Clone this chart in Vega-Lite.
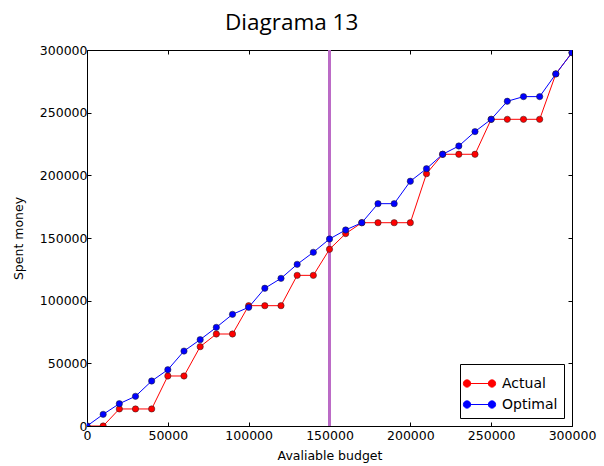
{
  "$schema": "https://vega.github.io/schema/vega-lite/v6.json",
  "width": 485,
  "height": 376,
  "autosize": {"type": "none"},
  "padding": {"left": 87, "top": 50, "right": 32, "bottom": 40},
  "background": "white",
  "title": {
    "text": "Diagrama 13",
    "font": "Open Sans",
    "fontSize": 22.5,
    "fontWeight": "normal",
    "color": "black",
    "anchor": "start",
    "frame": "group",
    "dx": 138,
    "dy": 27,
    "baseline": "alphabetic",
    "offset": 19
  },
  "config": {
    "view": {"stroke": "black", "strokeWidth": 1},
    "axis": {
      "domain": false,
      "grid": false,
      "tickColor": "black",
      "tickWidth": 1,
      "tickSize": -4,
      "labelFont": "DejaVu Sans",
      "labelFontSize": 12.5,
      "labelColor": "black",
      "titleFont": "DejaVu Sans",
      "titleFontSize": 12.5,
      "titleFontWeight": "normal",
      "titleColor": "black"
    },
    "legend": {
      "orient": "bottom-right",
      "offset": 8,
      "strokeColor": "black",
      "fillColor": "white",
      "padding": 6,
      "labelFont": "DejaVu Sans",
      "labelFontSize": 14,
      "labelColor": "black",
      "labelOffset": 9,
      "rowPadding": -3,
      "symbolSize": 676,
      "symbolStrokeWidth": 1,
      "symbolType": "M-1,0L1,0M-1.24,0A0.28,0.28 0 1,0 -0.68,0A0.28,0.28 0 1,0 -1.24,0ZM0.68,0A0.28,0.28 0 1,0 1.24,0A0.28,0.28 0 1,0 0.68,0Z"
    }
  },
  "data": {
    "values": [
      {"budget": 0, "spent": 0, "series": "Actual"},
      {"budget": 10000, "spent": 0, "series": "Actual"},
      {"budget": 20000, "spent": 13600, "series": "Actual"},
      {"budget": 30000, "spent": 13600, "series": "Actual"},
      {"budget": 40000, "spent": 13600, "series": "Actual"},
      {"budget": 50000, "spent": 39900, "series": "Actual"},
      {"budget": 60000, "spent": 39900, "series": "Actual"},
      {"budget": 70000, "spent": 63300, "series": "Actual"},
      {"budget": 80000, "spent": 73400, "series": "Actual"},
      {"budget": 90000, "spent": 73400, "series": "Actual"},
      {"budget": 100000, "spent": 96000, "series": "Actual"},
      {"budget": 110000, "spent": 96000, "series": "Actual"},
      {"budget": 120000, "spent": 96000, "series": "Actual"},
      {"budget": 130000, "spent": 120200, "series": "Actual"},
      {"budget": 140000, "spent": 120200, "series": "Actual"},
      {"budget": 150000, "spent": 141000, "series": "Actual"},
      {"budget": 160000, "spent": 153500, "series": "Actual"},
      {"budget": 170000, "spent": 162200, "series": "Actual"},
      {"budget": 180000, "spent": 162200, "series": "Actual"},
      {"budget": 190000, "spent": 162200, "series": "Actual"},
      {"budget": 200000, "spent": 162200, "series": "Actual"},
      {"budget": 210000, "spent": 201300, "series": "Actual"},
      {"budget": 220000, "spent": 216800, "series": "Actual"},
      {"budget": 230000, "spent": 216800, "series": "Actual"},
      {"budget": 240000, "spent": 216800, "series": "Actual"},
      {"budget": 250000, "spent": 244700, "series": "Actual"},
      {"budget": 260000, "spent": 244700, "series": "Actual"},
      {"budget": 270000, "spent": 244700, "series": "Actual"},
      {"budget": 280000, "spent": 244700, "series": "Actual"},
      {"budget": 290000, "spent": 280900, "series": "Actual"},
      {"budget": 300000, "spent": 297900, "series": "Actual"},
      {"budget": 0, "spent": 0, "series": "Optimal"},
      {"budget": 10000, "spent": 9300, "series": "Optimal"},
      {"budget": 20000, "spent": 17800, "series": "Optimal"},
      {"budget": 30000, "spent": 23700, "series": "Optimal"},
      {"budget": 40000, "spent": 35900, "series": "Optimal"},
      {"budget": 50000, "spent": 44900, "series": "Optimal"},
      {"budget": 60000, "spent": 59800, "series": "Optimal"},
      {"budget": 70000, "spent": 68900, "series": "Optimal"},
      {"budget": 80000, "spent": 78700, "series": "Optimal"},
      {"budget": 90000, "spent": 89100, "series": "Optimal"},
      {"budget": 100000, "spent": 94700, "series": "Optimal"},
      {"budget": 110000, "spent": 109900, "series": "Optimal"},
      {"budget": 120000, "spent": 117800, "series": "Optimal"},
      {"budget": 130000, "spent": 129000, "series": "Optimal"},
      {"budget": 140000, "spent": 138600, "series": "Optimal"},
      {"budget": 150000, "spent": 149200, "series": "Optimal"},
      {"budget": 160000, "spent": 156400, "series": "Optimal"},
      {"budget": 170000, "spent": 162200, "series": "Optimal"},
      {"budget": 180000, "spent": 177400, "series": "Optimal"},
      {"budget": 190000, "spent": 177400, "series": "Optimal"},
      {"budget": 200000, "spent": 195300, "series": "Optimal"},
      {"budget": 210000, "spent": 205300, "series": "Optimal"},
      {"budget": 220000, "spent": 216800, "series": "Optimal"},
      {"budget": 230000, "spent": 223400, "series": "Optimal"},
      {"budget": 240000, "spent": 234900, "series": "Optimal"},
      {"budget": 250000, "spent": 244700, "series": "Optimal"},
      {"budget": 260000, "spent": 259100, "series": "Optimal"},
      {"budget": 270000, "spent": 262800, "series": "Optimal"},
      {"budget": 280000, "spent": 262800, "series": "Optimal"},
      {"budget": 290000, "spent": 280900, "series": "Optimal"},
      {"budget": 300000, "spent": 297900, "series": "Optimal"}
    ]
  },
  "layer": [
    {
      "mark": {"type": "rule", "stroke": "#bb6cc6", "strokeWidth": 1.8},
      "encoding": {"x": {"datum": 150000, "type": "quantitative", "axis": null}}
    },
    {
      "mark": {"type": "line", "strokeWidth": 1, "clip": true},
      "encoding": {
        "x": {
          "field": "budget", "type": "quantitative",
          "scale": {"domain": [0, 300000], "nice": false},
          "axis": {"orient": "bottom", "title": "Avaliable budget", "values": [0, 50000, 100000, 150000, 200000, 250000, 300000], "format": "d", "labelPadding": 7, "titlePadding": 8, "labelFlush": false}
        },
        "y": {
          "field": "spent", "type": "quantitative",
          "scale": {"domain": [0, 300000], "nice": false},
          "axis": {"orient": "left", "title": "Spent money", "values": [0, 50000, 100000, 150000, 200000, 250000, 300000], "format": "d", "labelPadding": 4, "titlePadding": 14, "labelFlush": false}
        },
        "color": {
          "field": "series", "type": "nominal",
          "scale": {"domain": ["Actual", "Optimal"], "range": ["#ff0000", "#0000ff"]},
          "legend": {
            "title": null,
            "encode": {
              "symbols": {
                "update": {
                  "fill": {"scale": "color", "field": "value"},
                  "stroke": {"scale": "color", "field": "value"}
                }
              }
            }
          }
        },
        "order": {"field": "budget", "type": "quantitative"}
      }
    },
    {
      "mark": {"type": "point", "filled": true, "size": 40, "stroke": "#202020", "strokeWidth": 0.5, "opacity": 1, "clip": true},
      "encoding": {
        "x": {
          "field": "budget", "type": "quantitative",
          "axis": {"orient": "top", "labels": false, "title": null, "values": [0, 50000, 100000, 150000, 200000, 250000, 300000]}
        },
        "y": {
          "field": "spent", "type": "quantitative",
          "axis": {"orient": "right", "labels": false, "title": null, "values": [0, 50000, 100000, 150000, 200000, 250000, 300000]}
        },
        "color": {"field": "series", "type": "nominal"}
      }
    }
  ],
  "resolve": {"axis": {"x": "independent", "y": "independent"}}
}
